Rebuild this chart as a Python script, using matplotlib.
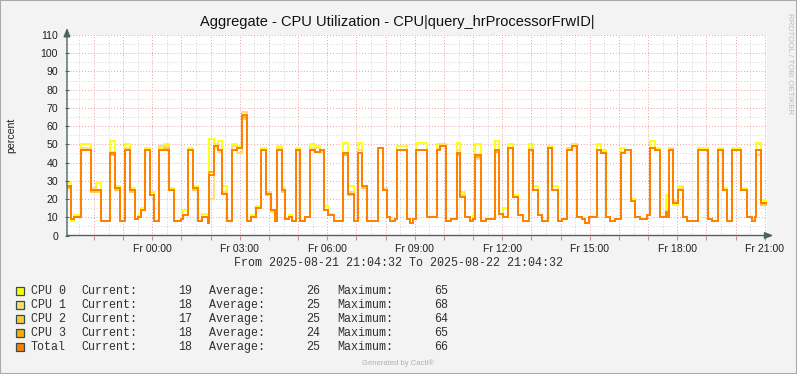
import numpy as np
import matplotlib
matplotlib.use('Agg')
import matplotlib.pyplot as plt
from matplotlib.patches import Rectangle

# step edges, hours since Fri 00:00 (graph runs 21:04:32 -> 21:04:32)
edges = [-2.924, -2.78, -2.67, -2.44, -2.10, -1.94, -1.76, -1.45, -1.28, -1.11,
         -0.92, -0.75, -0.59, -0.48, -0.39, -0.24, -0.09, 0.07, 0.24, 0.41,
         0.58, 0.75, 0.98, 1.06, 1.24, 1.38, 1.57, 1.70, 1.90, 1.96,
         2.10, 2.24, 2.39, 2.56, 2.73, 2.90, 3.07, 3.24, 3.38, 3.54,
         3.73, 3.89, 4.06, 4.19, 4.27, 4.44, 4.56, 4.70, 4.80, 4.92,
         5.07, 5.24, 5.41, 5.58, 5.75, 5.87, 6.04, 6.24, 6.55, 6.70,
         6.93, 7.05, 7.20, 7.35, 7.75, 7.92, 8.04, 8.15, 8.32, 8.40,
         8.72, 8.83, 8.95, 9.04, 9.41, 9.75, 9.87, 10.07, 10.25, 10.44,
         10.55, 10.72, 10.90, 10.99, 11.07, 11.26, 11.45, 11.75, 11.89, 12.04,
         12.21, 12.38, 12.55, 12.72, 12.92, 13.04, 13.21, 13.35, 13.58, 13.72,
         13.92, 14.05, 14.23, 14.38, 14.57, 14.72, 14.82, 14.98, 15.25, 15.40,
         15.54, 15.69, 15.88, 16.07, 16.21, 16.41, 16.55, 16.72, 16.95, 17.06,
         17.23, 17.40, 17.60, 17.66, 17.72, 17.85, 18.02, 18.19, 18.32, 18.71,
         19.04, 19.20, 19.40, 19.57, 19.72, 19.89, 20.20, 20.38, 20.55, 20.66,
         20.71, 20.88, 21.076]

cpu0 = [29, 8, 11, 50, 25, 29, 8, 52, 27, 8,
        50, 26, 9, 11, 15, 48, 24, 8, 48, 50,
        26, 8, 9, 14, 48, 27, 8, 12, 7, 53,
        48, 52, 27, 8, 50, 49, 65, 8, 11, 16,
        48, 23, 14, 8, 49, 26, 9, 11, 8, 48,
        8, 10, 50, 49, 47, 16, 12, 8, 51, 27,
        8, 51, 27, 8, 48, 25, 10, 8, 9, 49,
        9, 7, 9, 51, 10, 50, 49, 8, 9, 51,
        24, 10, 8, 11, 50, 8, 9, 52, 12, 15,
        50, 22, 11, 8, 50, 27, 11, 8, 49, 27,
        8, 9, 48, 50, 10, 9, 7, 10, 50, 47,
        10, 8, 9, 48, 47, 20, 10, 9, 11, 52,
        48, 10, 22, 10, 48, 17, 27, 10, 8, 48,
        9, 8, 48, 26, 8, 48, 26, 10, 8, 10,
        51, 19]
cpu1 = [26, 9, 10, 48, 26, 25, 8, 46, 26, 8,
        48, 25, 9, 10, 14, 47, 22, 8, 49, 49,
        25, 8, 9, 11, 47, 26, 8, 10, 7, 20,
        50, 46, 24, 8, 49, 45, 68, 8, 10, 15,
        47, 24, 13, 8, 48, 25, 9, 10, 8, 47,
        8, 10, 48, 48, 46, 14, 11, 8, 45, 24,
        8, 47, 26, 8, 48, 26, 10, 8, 9, 47,
        9, 7, 9, 47, 10, 48, 50, 8, 9, 47,
        22, 10, 8, 9, 42, 8, 9, 47, 12, 10,
        48, 21, 11, 8, 48, 25, 11, 8, 48, 25,
        8, 9, 48, 50, 10, 9, 7, 10, 47, 46,
        10, 8, 9, 46, 47, 19, 10, 9, 11, 48,
        47, 10, 14, 10, 48, 19, 26, 10, 8, 47,
        9, 8, 47, 25, 8, 47, 25, 10, 8, 10,
        44, 18]
cpu2 = [27, 9, 10, 47, 24, 24, 8, 45, 25, 8,
        47, 24, 9, 10, 14, 47, 22, 8, 47, 48,
        25, 8, 9, 11, 47, 25, 8, 10, 7, 33,
        49, 47, 23, 8, 47, 48, 64, 8, 10, 15,
        47, 22, 14, 8, 47, 24, 9, 10, 8, 47,
        8, 10, 47, 46, 47, 14, 11, 8, 45, 22,
        8, 45, 26, 8, 48, 25, 10, 8, 9, 47,
        9, 7, 9, 47, 10, 47, 49, 8, 9, 45,
        21, 10, 8, 9, 44, 8, 9, 47, 12, 10,
        48, 21, 11, 8, 47, 25, 11, 8, 48, 25,
        8, 9, 47, 49, 10, 9, 7, 10, 47, 45,
        10, 8, 9, 45, 47, 19, 10, 9, 11, 48,
        47, 10, 13, 10, 47, 18, 25, 10, 8, 47,
        9, 8, 47, 25, 8, 47, 25, 10, 8, 10,
        47, 17]
cpu3 = [26, 9, 10, 47, 25, 25, 8, 44, 26, 8,
        47, 25, 9, 10, 14, 47, 22, 8, 47, 47,
        25, 8, 9, 11, 47, 26, 8, 10, 7, 35,
        49, 47, 23, 8, 47, 48, 65, 8, 10, 15,
        47, 23, 14, 8, 47, 25, 9, 10, 8, 47,
        8, 10, 47, 46, 47, 14, 11, 8, 44, 23,
        8, 45, 27, 8, 48, 25, 10, 8, 9, 47,
        9, 7, 9, 47, 10, 47, 49, 8, 9, 44,
        21, 10, 8, 9, 43, 8, 9, 46, 12, 10,
        48, 21, 11, 8, 47, 25, 11, 8, 48, 25,
        8, 9, 47, 49, 10, 9, 7, 10, 47, 45,
        10, 8, 9, 45, 47, 19, 10, 9, 11, 48,
        47, 10, 12, 10, 47, 18, 25, 10, 8, 47,
        9, 8, 47, 25, 8, 47, 25, 10, 8, 10,
        47, 18]
total = [27, 9, 10, 47, 25, 25, 8, 45, 26, 8,
         47, 25, 9, 10, 14, 47, 22, 8, 47, 47,
         25, 8, 9, 11, 47, 26, 8, 10, 7, 33,
         49, 47, 23, 8, 47, 48, 66, 8, 10, 15,
         47, 23, 14, 8, 47, 25, 9, 10, 8, 47,
         8, 10, 47, 46, 47, 14, 11, 8, 45, 23,
         8, 45, 27, 8, 48, 25, 10, 8, 9, 47,
         9, 7, 9, 47, 10, 47, 49, 8, 9, 45,
         21, 10, 8, 9, 44, 8, 9, 47, 12, 10,
         48, 21, 11, 8, 47, 25, 11, 8, 48, 25,
         8, 9, 47, 49, 10, 9, 7, 10, 47, 45,
         10, 8, 9, 45, 47, 19, 10, 9, 11, 48,
         47, 10, 13, 10, 47, 18, 25, 10, 8, 47,
         9, 8, 47, 25, 8, 47, 25, 10, 8, 10,
         47, 18]

names = ['CPU 0', 'CPU 1', 'CPU 2', 'CPU 3', 'Total']
colors = ['#FFFF00', '#FFDC6E', '#FFC73B', '#FFAB00', '#FF7D00']
current = [19, 18, 17, 18, 18]
average = [26, 25, 25, 24, 25]
maximum = [65, 68, 64, 65, 66]

hour_labels = ['Fr 00:00', 'Fr 03:00', 'Fr 06:00', 'Fr 09:00',
               'Fr 12:00', 'Fr 15:00', 'Fr 18:00', 'Fr 21:00']

W, H = 797, 374
fig = plt.figure(figsize=(W / 100, H / 100), dpi=100, facecolor='#F3F3F3')
fig.patches.append(Rectangle((0, 0), 1, 1, transform=fig.transFigure,
                             fill=False, edgecolor='#AAAAAA', lw=1.5))

def fx(x):
    return x / W

def fy(y):
    return 1 - y / H

ax = fig.add_axes([fx(67), fy(235.5), 700 / W, 200.5 / H])
ax.set_facecolor('white')

series = [cpu0, cpu1, cpu2, cpu3, total]
for vals, c in zip(series, colors):
    ax.stairs(vals, edges, baseline=None, color=c, lw=1.3)

ax.set_xlim(-2.9244, 21.0756)
ax.set_ylim(0, 110)

# grid: gray minor, red major
ax.set_xticks(np.arange(-2, 22, 1))
ax.set_xticklabels(['' if h % 3 else hour_labels[h // 3] for h in range(-2, 22)])
ax.set_xticks(np.arange(-2.5, 21.5, 1), minor=True)
ax.set_yticks(np.arange(0, 111, 10))
ax.set_yticks(np.arange(5, 110, 10), minor=True)
ax.grid(which='minor', color='#D4D4D4', ls=(0, (1, 2)), lw=0.7)
ax.grid(which='major', color='#EBA0A0', ls=(0, (1, 2)), lw=0.7)
ax.set_axisbelow(True)

for s in ax.spines.values():
    s.set_visible(False)
ax.tick_params(which='minor', length=0)
ax.tick_params(axis='x', which='major', length=3, color='#E08080', direction='out',
               labelsize=7.6, pad=3, labelcolor='#202020')
ax.tick_params(axis='y', which='major', length=3, color='#4A6464', direction='inout',
               labelsize=7.6, pad=5, labelcolor='#202020')
for lab in ax.get_xticklabels() + ax.get_yticklabels():
    lab.set_family('Liberation Sans')

# axes with arrow heads
ax.annotate('', xy=(0, 1.035), xytext=(0, 0), xycoords='axes fraction',
            arrowprops=dict(arrowstyle='-|>,head_length=0.5,head_width=0.2',
                            color='#4A6464', lw=1.0, shrinkA=0, shrinkB=0))
ax.annotate('', xy=(1.009, 0), xytext=(0, 0), xycoords='axes fraction',
            arrowprops=dict(arrowstyle='-|>,head_length=0.5,head_width=0.2',
                            color='#4A6464', lw=1.0, shrinkA=0, shrinkB=0))

fig.text(fx(397), fy(22), 'Aggregate - CPU Utilization - CPU|query_hrProcessorFrwID|',
         ha='center', va='center', family='Liberation Sans', fontsize=10.5, color='#111111')
fig.text(fx(11), fy(135), 'percent', rotation=90, ha='center', va='center',
         family='Liberation Sans', fontsize=7.6, color='#202020')
fig.text(fx(789), fy(64), 'RRDTOOL / TOBI OETIKER', rotation=-90, ha='center', va='center',
         family='Liberation Sans', fontsize=5.8, color='#BBBBBB')
fig.text(fx(398), fy(263), 'From 2025-08-21 21:04:32 To 2025-08-22 21:04:32',
         ha='center', va='center', family='Liberation Mono', fontsize=8.4, color='#303030')

mono = dict(family='Liberation Mono', fontsize=8.4, color='#303030', va='center')
for i, name in enumerate(names):
    y = 291 + 14 * i
    fig.patches.append(Rectangle((fx(15.5), fy(y + 4)), 8 / W, 8 / H, transform=fig.transFigure,
                                 facecolor=colors[i], edgecolor='#2F4F4F', lw=0.9))
    fig.text(fx(30.5), fy(y), name, ha='left', **mono)
    fig.text(fx(81), fy(y), 'Current:', ha='left', **mono)
    fig.text(fx(192.5), fy(y), str(current[i]), ha='right', **mono)
    fig.text(fx(209), fy(y), 'Average:', ha='left', **mono)
    fig.text(fx(320.5), fy(y), str(average[i]), ha='right', **mono)
    fig.text(fx(337), fy(y), 'Maximum:', ha='left', **mono)
    fig.text(fx(448.5), fy(y), str(maximum[i]), ha='right', **mono)

fig.text(fx(398.5), fy(363), 'Generated by Cacti\u00ae', ha='center', va='center',
         family='Liberation Sans', fontsize=5.5, color='#B0B0B0')

fig.savefig('out.png', dpi=100, facecolor=fig.get_facecolor())
